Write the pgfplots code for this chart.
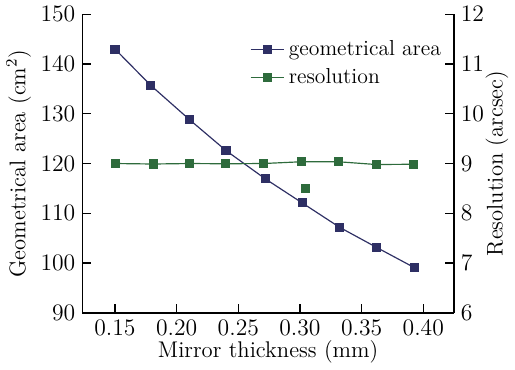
\documentclass[border=0pt]{standalone}
\usepackage{pgfplots}
\pgfplotsset{compat=1.18}
\definecolor{navy}{RGB}{46,47,100}
\definecolor{dgreen}{RGB}{46,107,60}
\begin{document}
\begin{tikzpicture}
\pgfplotsset{
  common/.style={
    width=188.5pt, height=151.5pt, scale only axis,
    xmin=0.1235, xmax=0.4248,
    tick align=inside,
    axis line style={line width=0.8pt},
    tick style={line width=0.6pt, black},
    ticklabel style={font=\fontsize{11.5}{13}\selectfont},
    label style={font=\fontsize{11.5}{13}\selectfont},
  }
}
\begin{axis}[common,
  axis y line*=left, axis x line*=bottom,
  ymin=90, ymax=150, ytick={90,100,...,150},
  xtick={0.15,0.20,...,0.40},
  xticklabel style={/pgf/number format/.cd, fixed, fixed zerofill, precision=2},
  xlabel={Mirror thickness (mm)},
  ylabel={Geometrical area (cm$^2$)},
  xlabel style={yshift=4pt},
  ylabel style={yshift=-2pt},
  clip=false,
]
\addplot[navy, line width=0.6pt, mark=square*, mark size=2pt] coordinates {
(0.150,143.0) (0.179,135.7) (0.2105,128.8) (0.240,122.6) (0.272,116.9)
(0.3017,112.1) (0.332,107.2) (0.3617,103.2) (0.3926,99.1)
};
\end{axis}
\begin{axis}[common,
  axis y line*=right, axis x line=none,
  ymin=6, ymax=12, ytick={6,7,...,12},
  ylabel={Resolution (arcsec)},
  ylabel style={yshift=6pt},
  legend style={at={(0.993,0.94)}, anchor=north east, draw=none, fill=none,
    row sep=1pt, font=\fontsize{11}{13}\selectfont},
  legend cell align=left,
  clip=false,
]
\addlegendimage{navy, line width=0.6pt, mark=square*, mark size=2pt}
\addlegendentry{geometrical area}
\addplot[dgreen, line width=0.6pt, mark=square*, mark size=2pt] coordinates {
(0.1506,9.00) (0.181,8.99) (0.2105,9.00) (0.2393,8.995) (0.2705,9.00)
(0.3009,9.035) (0.3313,9.035) (0.3617,8.98) (0.392,8.985)
};
\addlegendentry{resolution}
\addplot[dgreen, only marks, mark=square*, mark size=2pt, forget plot] coordinates {(0.3046,8.495)};
\end{axis}
\end{tikzpicture}
\end{document}
